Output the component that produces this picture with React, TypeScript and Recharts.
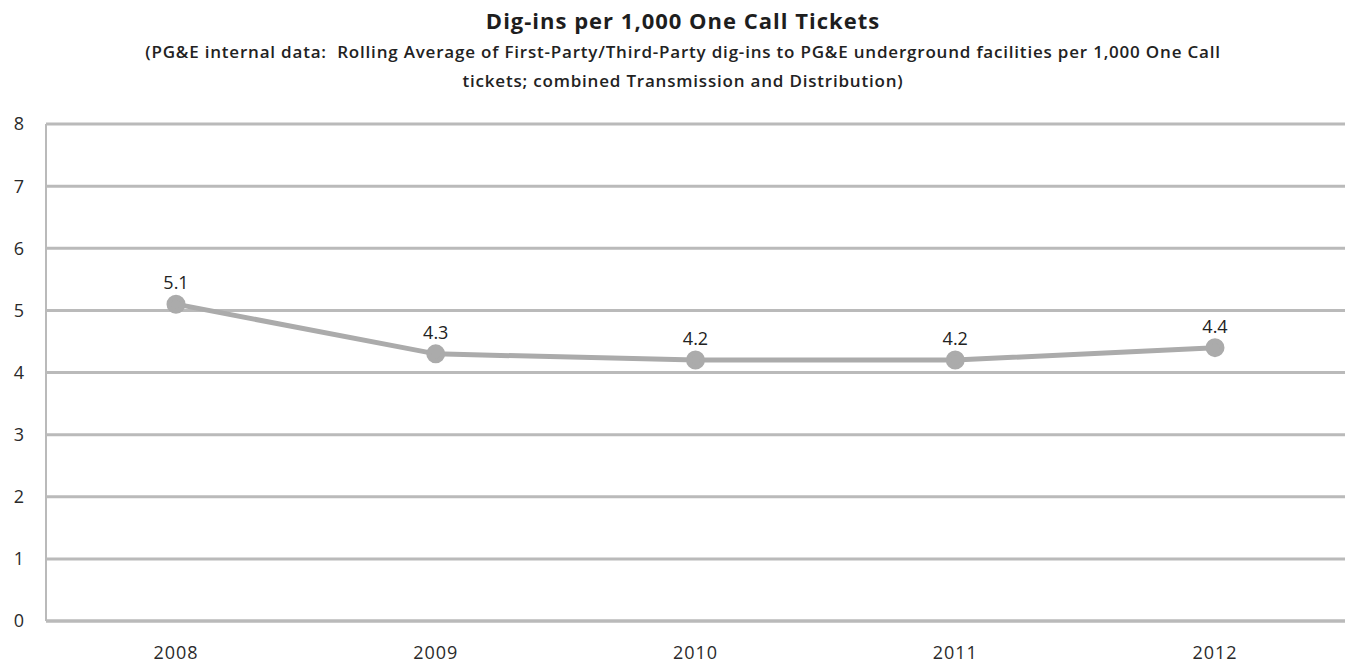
import { CartesianGrid, LabelList, Line, LineChart, XAxis, YAxis } from 'recharts';

const years = ['2008', '2009', '2010', '2011', '2012'];
const digInsPer1000 = [5.1, 4.3, 4.2, 4.2, 4.4];
const yTicks = [0, 1, 2, 3, 4, 5, 6, 7, 8];

const data = years.map((year, i) => ({ year, value: digInsPer1000[i] }));

const font = '"Open Sans", "Noto Sans", sans-serif';

export default function App() {
  return (
    <div
      style={{
        position: 'absolute',
        left: 0,
        top: 0,
        width: 1354,
        height: 668,
        background: '#fff',
        fontFamily: font,
        overflow: 'hidden',
      }}
    >
      <div
        style={{
          position: 'absolute',
          top: 5,
          left: 0,
          width: 1366,
          textAlign: 'center',
          fontSize: 22,
          lineHeight: '30px',
          fontWeight: 700,
          color: '#1e1e1e',
          letterSpacing: 1,
          whiteSpace: 'nowrap',
        }}
      >
        Dig-ins per 1,000 One Call Tickets
      </div>
      <div
        style={{
          position: 'absolute',
          top: 37,
          left: 0,
          width: 1366,
          textAlign: 'center',
          fontSize: 17,
          fontWeight: 600,
          lineHeight: '29px',
          color: '#222',
          letterSpacing: 0.8,
          whiteSpace: 'nowrap',
        }}
      >
        (PG&amp;E internal data:&nbsp; Rolling Average of First-Party/Third-Party dig-ins to PG&amp;E underground facilities per 1,000 One Call
        <br />
        tickets; combined Transmission and Distribution)
      </div>
      <LineChart
        width={1354}
        height={668}
        data={data}
        margin={{ top: 124, right: 9, bottom: 0, left: 0 }}
        style={{ position: 'absolute', left: 0, top: 0 }}
      >
        <CartesianGrid vertical={false} stroke="#bababa" strokeWidth={3} />
        <XAxis
          dataKey="year"
          height={47}
          padding={{ left: 130, right: 130 }}
          axisLine={{ stroke: '#bababa', strokeWidth: 3 }}
          tickLine={false}
          tick={{ fill: '#2a2a2a', fontSize: 18, fontFamily: font, letterSpacing: 1 }}
          tickMargin={19}
        />
        <YAxis
          width={46}
          domain={[0, 8]}
          ticks={yTicks}
          axisLine={{ stroke: '#bababa', strokeWidth: 2 }}
          tickLine={false}
          tick={{ fill: '#2a2a2a', fontSize: 18, fontFamily: font }}
          tickMargin={16}
        />
        <Line
          dataKey="value"
          stroke="#ababab"
          strokeWidth={5}
          dot={{ r: 7, fill: '#ababab', stroke: '#ababab' }}
          isAnimationActive={false}
        >
          <LabelList
            dataKey="value"
            position="top"
            offset={15}
            fill="#222"
            fontSize={18}
            fontFamily={font}
            formatter={(v: unknown) => Number(v).toFixed(1)}
          />
        </Line>
      </LineChart>
    </div>
  );
}
